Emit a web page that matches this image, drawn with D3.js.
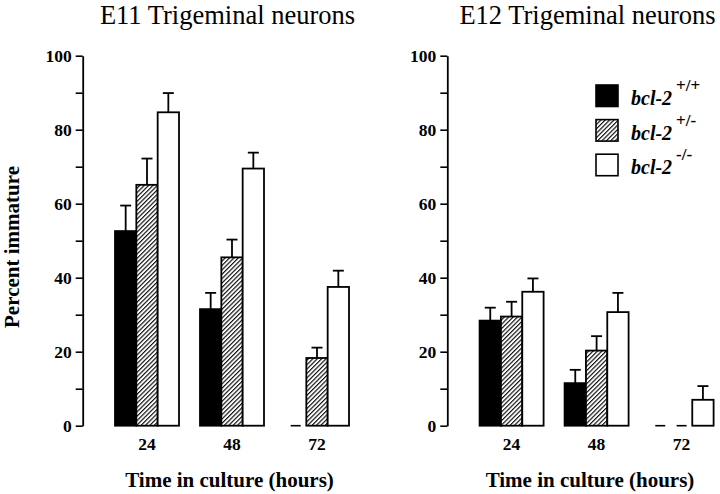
<!DOCTYPE html>
<html>
<head>
<meta charset="utf-8">
<script src="https://cdn.jsdelivr.net/npm/d3@7"></script>
<style>
  html, body { margin: 0; padding: 0; background: #fff; }
  svg { display: block; }
  svg text { font-family: "Liberation Serif", "Times New Roman", Times, "DejaVu Serif", serif !important; fill: #000; }
</style>
</head>
<body>
<svg id="chart" width="720" height="494"></svg>
<script>
// ---- data ----
const categories = ["24", "48", "72"];
const genotypes = ["+/+", "+/-", "-/-"];
const yTicks = [0, 10, 20, 30, 40, 50, 60, 70, 80, 90, 100];
const panelTitles = ["E11 Trigeminal neurons", "E12 Trigeminal neurons"];

// E11 means per genotype, across 24/48/72 h
const e11WT = [52.6, 31.5, 0];
const e11Het = [65.1, 45.5, 18.3];
const e11KO = [84.7, 69.5, 37.5];
const e11WTErr = [6.9, 4.4, 0];
const e11HetErr = [7.1, 4.8, 2.8];
const e11KOErr = [5.2, 4.3, 4.4];

// E12
const e12WT = [28.4, 11.5, 0];
const e12Het = [29.5, 20.3, 0];
const e12KO = [36.2, 30.7, 7.0];
const e12WTErr = [3.5, 3.6, 0];
const e12HetErr = [4.0, 3.9, 0];
const e12KOErr = [3.6, 5.2, 3.7];

const panels = [
  { title: panelTitles[0], values: [e11WT, e11Het, e11KO], errs: [e11WTErr, e11HetErr, e11KOErr] },
  { title: panelTitles[1], values: [e12WT, e12Het, e12KO], errs: [e12WTErr, e12HetErr, e12KOErr] }
];

// ---- drawing ----
const svg = d3.select("#chart");
const defs = svg.append("defs");
const pat = defs.append("pattern")
  .attr("id", "hatch")
  .attr("patternUnits", "userSpaceOnUse")
  .attr("width", 3.1).attr("height", 3.1)
  .attr("patternTransform", "rotate(45)");
pat.append("rect").attr("width", 3.1).attr("height", 3.1).attr("fill", "#fff");
pat.append("line").attr("x1", 0.6).attr("y1", 0).attr("x2", 0.6).attr("y2", 3.1)
  .attr("stroke", "#000").attr("stroke-width", 1.1);

const fills = ["#000", "url(#hatch)", "#fff"];

const y = d3.scaleLinear().domain([0, 100]).range([425.7, 55.7]);
const panelOffsets = [0, 364.6];
const titleCenters = [227.5, 587.5];
const xTitleCenters = [229.5, 590];
const axisX0 = 82.7;

panels.forEach((p, pi) => {
  const off = panelOffsets[pi];
  const g = svg.append("g").attr("transform", `translate(${off},0)`);

  const x = d3.scaleBand().domain(categories)
    .range([104.5, 359.5]).paddingInner(0.247).paddingOuter(0.1235);
  const xs = d3.scaleBand().domain(genotypes).range([0, x.bandwidth()]).padding(0);

  // title
  g.append("text")
    .attr("x", titleCenters[pi] - off)
    .attr("y", 23.5)
    .attr("text-anchor", "middle")
    .style("font-size", "26.5px")
    .text(p.title);

  // y axis
  const yAxis = d3.axisLeft(y).tickValues(yTicks).tickSize(7).tickSizeOuter(0).tickPadding(4)
    .tickFormat(d => d % 20 === 0 ? d : "");
  const ya = g.append("g").attr("transform", `translate(${axisX0},0)`).call(yAxis);
  ya.attr("font-family", null);
  ya.select(".domain").attr("stroke", "#000").attr("stroke-width", 1.8);
  ya.selectAll(".tick line").attr("stroke", "#000").attr("stroke-width", 1.6);
  ya.selectAll(".tick text")
    .style("font-weight", "bold").style("font-size", "17.5px").attr("fill", "#000");

  // x axis labels (no line)
  const xAxis = d3.axisBottom(x).tickSize(0).tickPadding(12);
  const xa = g.append("g").attr("transform", `translate(0,${y(0)})`).call(xAxis);
  xa.attr("font-family", null);
  xa.select(".domain").remove();
  xa.selectAll(".tick text")
    .style("font-weight", "bold").style("font-size", "17.5px").attr("fill", "#000");

  // x axis title
  g.append("text")
    .attr("x", xTitleCenters[pi] - off).attr("y", 487)
    .attr("text-anchor", "middle")
    .style("font-weight", "bold").style("font-size", "21px")
    .text("Time in culture (hours)");

  // bars
  genotypes.forEach((gt, si) => {
    const vals = p.values[si];
    const errs = p.errs[si];
    categories.forEach((c, ci) => {
      const v = vals[ci];
      const bx = x(c) + xs(gt);
      const bw = xs.bandwidth();
      if (v === 0) {
        g.append("line")
          .attr("x1", bx + bw / 2 - 5).attr("x2", bx + bw / 2 + 5)
          .attr("y1", y(0)).attr("y2", y(0))
          .attr("stroke", "#000").attr("stroke-width", 1.6);
        return;
      }
      const e = errs[ci];
      const cx = bx + bw / 2;
      if (e > 0) {
        g.append("line").attr("x1", cx).attr("x2", cx)
          .attr("y1", y(v)).attr("y2", y(v + e))
          .attr("stroke", "#000").attr("stroke-width", 1.8);
        g.append("line").attr("x1", cx - 5.5).attr("x2", cx + 5.5)
          .attr("y1", y(v + e)).attr("y2", y(v + e))
          .attr("stroke", "#000").attr("stroke-width", 1.8);
      }
      g.append("rect")
        .attr("x", bx).attr("y", y(v))
        .attr("width", bw).attr("height", y(0) - y(v))
        .attr("fill", fills[si])
        .attr("stroke", "#000").attr("stroke-width", 1.8);
    });
  });
});

// y axis title
svg.append("text")
  .attr("transform", "translate(19,247) rotate(-90)")
  .attr("text-anchor", "middle")
  .style("font-weight", "bold").style("font-size", "21px")
  .text("Percent immature");

// legend
const legend = svg.append("g").attr("transform", "translate(596,85)");
genotypes.forEach((gt, i) => {
  const row = legend.append("g").attr("transform", `translate(0,${i * 34.6})`);
  row.append("rect").attr("x", 0).attr("y", 0).attr("width", 22).attr("height", 21.5)
    .attr("fill", fills[i]).attr("stroke", "#000").attr("stroke-width", 1.6);
  const t = row.append("text").attr("x", 35).attr("y", 20)
    .style("font-weight", "bold").style("font-style", "italic").style("font-size", "20px");
  t.append("tspan").text("bcl-2");
  t.append("tspan").attr("dx", 4).attr("dy", -14).style("font-style", "normal")
    .style("font-weight", "bold").style("font-size", "17px").text(gt);
});
</script>
</body>
</html>
